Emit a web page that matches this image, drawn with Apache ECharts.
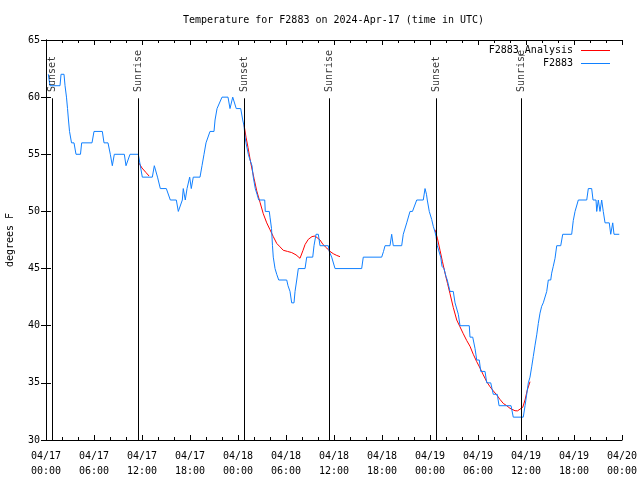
<!DOCTYPE html>
<html><head><meta charset="utf-8">
<script src="https://cdn.jsdelivr.net/npm/echarts@6/dist/echarts.min.js"></script>
<style>html,body{margin:0;padding:0;background:#fff}#c{width:640px;height:480px}</style>
</head><body><div id="c"></div>
<script>
// hours since 2024-04-17 00:00 UTC, temperature degF
const tickLabels = ['04/17\n00:00','04/17\n06:00','04/17\n12:00','04/17\n18:00','04/18\n00:00','04/18\n06:00','04/18\n12:00','04/18\n18:00','04/19\n00:00','04/19\n06:00','04/19\n12:00','04/19\n18:00','04/20\n00:00'];
const yTicks = [30,35,40,45,50,55,60,65];
const eventHours = [0.75, 11.54, 24.79, 35.42, 48.75, 59.42];
const eventNames = ['Sunset','Sunrise','Sunset','Sunrise','Sunset','Sunrise'];

const f2883 = [
[0.29,62],[0.5,61],[1.75,61],[1.88,62],[2.25,62],[2.38,61],[2.56,60],[2.69,59],[2.81,58],[2.94,57],[3.19,56],[3.5,56],[3.75,55],[4.31,55],[4.46,56],[5.75,56],[6.0,57],[7.04,57],[7.25,56],[7.75,56],[8.04,55],[8.29,54],[8.54,55],[9.79,55],[10.0,54],[10.25,54],[10.5,55],[11.54,55],[11.79,54],[12.04,53],[13.29,53],[13.54,54],[13.79,54],[13.94,53],[14.29,52],[15.04,52],[15.54,51],[16.29,51],[16.54,50],[16.79,50],[17.04,51],[17.16,52],[17.41,51],[17.63,52],[17.96,53],[18.16,52],[18.41,53],[19.25,53],[19.5,54],[19.75,55],[20.0,56],[20.5,57],[21.0,57],[21.13,58],[21.38,59],[21.63,59],[22.0,60],[22.75,60],[23.0,59],[23.34,60],[23.59,60],[23.78,59],[24.34,59],[24.59,58],[24.75,57.5],[24.88,56.5],[25.0,56],[25.29,55],[25.5,54.5],[25.75,54],[25.91,53],[26.16,52],[26.38,51.5],[26.59,51],[27.34,51],[27.41,50],[27.91,50],[28.0,49.5],[28.19,48.5],[28.31,47],[28.41,46],[28.63,45],[28.84,44.5],[29.09,44],[30.09,44],[30.25,43.5],[30.5,43],[30.71,42],[31.0,42],[31.13,43],[31.34,44],[31.54,45],[32.38,45],[32.59,46],[33.34,46],[33.5,47],[33.75,48],[34.04,48],[34.25,47],[35.29,47],[35.41,46.5],[35.71,46],[36.13,45],[39.46,45],[39.66,46],[41.96,46],[42.19,46.5],[42.38,47],[43.0,47],[43.21,48],[43.41,47],[44.46,47],[44.66,48],[45.09,49],[45.5,50],[45.81,50],[46.34,51],[47.16,51],[47.38,52],[47.56,51.5],[47.66,51],[47.91,50],[48.21,49.3],[48.41,48.7],[48.63,48.2],[48.75,47.8],[48.91,47],[49.34,46],[49.5,45.2],[49.75,45],[50.0,44.3],[50.16,44],[50.41,44],[50.5,43],[50.91,43],[51.13,42],[51.34,42],[51.54,41],[51.75,40],[52.91,40],[53.0,39],[53.34,39],[53.63,38],[53.84,37],[54.16,37],[54.34,36],[54.88,36],[55.09,35],[55.59,35],[55.75,34.5],[55.91,34],[56.41,34],[56.63,33],[58.13,33],[58.41,32],[59.66,32],[59.88,33],[60.09,34],[60.29,35],[60.5,35.5],[60.71,36.4],[60.91,37.3],[61.13,38.3],[61.34,39.2],[61.54,40.2],[61.75,41.1],[61.96,41.7],[62.16,42],[62.41,42],[62.59,43],[62.79,44],[63.09,44],[63.21,44.6],[63.41,45.2],[63.63,45.9],[63.84,47],[64.34,47],[64.59,48],[65.71,48],[65.91,49.2],[66.13,50],[66.34,50],[66.54,51],[67.59,51],[67.79,52],[68.21,52],[68.38,51],[68.75,51],[68.84,50],[69.04,51],[69.25,50],[69.46,51],[69.66,50],[69.88,49],[70.41,49],[70.59,48],[70.84,49],[71.0,48],[71.66,48]
];
const analysis1 = [[11.56,54.3],[12.0,53.8],[12.5,53.4],[12.88,53.1]];
const analysis2 = [[24.75,57.6],[25.0,56.5],[25.25,55.6],[25.5,54.6],[25.75,53.7],[26.0,52.9],[26.34,51.8],[26.75,50.8],[27.16,49.8],[27.59,49.0],[28.0,48.4],[28.41,47.8],[28.84,47.2],[29.25,46.9],[29.66,46.6],[30.19,46.5],[30.71,46.4],[31.25,46.2],[31.75,45.9],[32.13,46.6],[32.38,47.1],[32.79,47.56],[33.25,47.8],[33.63,47.85],[33.88,47.8],[34.25,47.5],[34.63,47.1],[35.09,46.8],[35.5,46.5],[35.91,46.3],[36.34,46.15],[36.75,46.04]];
const analysis3 = [[48.63,48.4],[48.94,47.6],[49.25,46.6],[49.56,45.6],[49.88,44.6],[50.19,43.7],[50.5,42.8],[50.91,41.6],[51.34,40.5],[51.75,39.9],[52.16,39.3],[52.59,38.7],[53.0,38.2],[53.41,37.5],[53.84,36.85],[54.25,36.3],[54.66,35.7],[55.09,35.1],[55.5,34.66],[55.91,34.3],[56.34,33.94],[56.75,33.55],[57.16,33.2],[57.59,33.0],[58.0,32.77],[58.63,32.56],[58.94,32.55],[59.25,32.7],[59.59,32.86],[59.88,33.5],[60.16,34.37],[60.5,35.1]];

const FONT = 'DejaVu Sans Mono';
const RED = '#ff0000', BLUE = '#1080ff';
const lineTop = 59.9, labelAnchor = 60.45;

const chart = echarts.init(document.getElementById('c'), null, {renderer:'canvas'});
const redSeries = [analysis1, analysis2, analysis3].map(d => ({
  name:'F2883_Analysis', type:'line', data:d, showSymbol:false, symbol:'none',
  lineStyle:{color:RED, width:1}, itemStyle:{color:RED}, z:2
}));
const axisCommon = {
  axisLine:{lineStyle:{color:'#000', width:1}},
  axisTick:{inside:true, length:5, lineStyle:{color:'#000'}},
  splitLine:{show:false}
};
chart.setOption({
  animation:false,
  backgroundColor:'#fff',
  textStyle:{fontFamily:FONT, color:'#000'},
  title:{text:'Temperature for F2883 on 2024-Apr-17 (time in UTC)', left:183, top:15, padding:0,
    textStyle:{fontFamily:FONT, fontSize:10, fontWeight:'normal', color:'#000'}},
  grid:{left:46, right:18, top:40, bottom:40, containLabel:false, outerBoundsMode:'none'},
  legend:{
    data:['F2883_Analysis','F2883'], orient:'vertical', right:30, top:44, align:'right',
    itemWidth:29, itemHeight:1, itemGap:0, icon:'rect', padding:0,
    textStyle:{fontFamily:FONT, fontSize:10, color:'#000', lineHeight:13, padding:[0,3,0,0]}
  },
  xAxis:[
    Object.assign({type:'value', min:0, max:72, interval:6, position:'bottom',
      minorTick:{show:true, splitNumber:3, length:3, lineStyle:{color:'#000'}},
      axisLabel:{formatter:v => tickLabels[Math.round(v/6)], fontFamily:FONT, fontSize:10, color:'#000', lineHeight:15, margin:9}
    }, axisCommon),
    Object.assign({type:'value', min:0, max:72, interval:6, position:'top',
      minorTick:{show:true, splitNumber:3, length:3, lineStyle:{color:'#000'}},
      axisLabel:{show:false}}, axisCommon)
  ],
  yAxis:[
    Object.assign({type:'value', min:yTicks[0], max:yTicks[yTicks.length-1], interval:5, position:'left',
      name:'degrees F', nameLocation:'middle', nameGap:31, nameRotate:90,
      nameTextStyle:{fontFamily:FONT, fontSize:10, color:'#000'},
      axisLabel:{fontFamily:FONT, fontSize:10, color:'#000', margin:6}}, axisCommon),
    Object.assign({type:'value', min:yTicks[0], max:yTicks[yTicks.length-1], interval:5, position:'right',
      axisLabel:{show:false}}, axisCommon)
  ],
  series: redSeries.concat([
    {name:'F2883', type:'line', data:f2883, showSymbol:false, symbol:'none',
     lineStyle:{color:BLUE, width:1}, itemStyle:{color:BLUE}, z:3},
    {name:'events', type:'scatter', data:eventHours.map((h,i)=>({value:[h,labelAnchor], name:eventNames[i]})),
     symbolSize:1, itemStyle:{color:'rgba(0,0,0,0)'}, silent:true, z:4,
     label:{show:true, formatter:p=>p.name, position:'inside', rotate:90, align:'left', verticalAlign:'middle',
       fontFamily:FONT, fontSize:10, color:'#000'},
     markLine:{silent:true, symbol:['none','none'], label:{show:false},
       lineStyle:{color:'#000', width:1, type:'solid'},
       data:eventHours.map(h=>[{coord:[h,yTicks[0]]},{coord:[h,lineTop]}])}}
  ])
});
</script></body></html>
